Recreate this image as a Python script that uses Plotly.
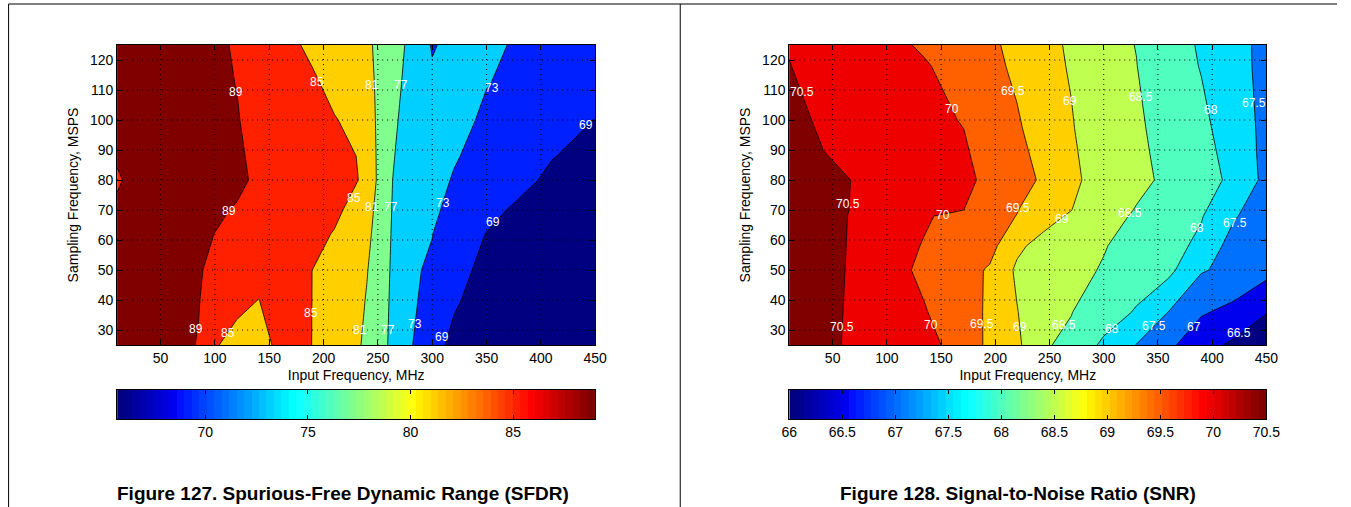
import numpy as np
import plotly.graph_objects as go

W, H = 1351, 507
FONT = "Liberation Sans, Arial, Helvetica, sans-serif"

# ---------------- data ----------------
X_TICKS = [50, 100, 150, 200, 250, 300, 350, 400, 450]
Y_TICKS = [30, 40, 50, 60, 70, 80, 90, 100, 110, 120]

# SFDR (dBFS) vs input frequency (MHz, columns) and sampling frequency (MSPS, rows)
SFDR_X = [10, 50, 85, 120, 140, 160, 190, 210, 240, 255, 270, 300, 320, 350, 380, 410, 450]
SFDR_Y = [25, 40, 50, 62, 70, 80, 88, 100, 112, 125]
SFDR_Z = [
    [89.8, 89.6, 88.94, 81.68, 82.5, 86.5, 84.95, 83.5, 80.43, 77.91, 74.5, 70.75, 67.78, 67.3, 66.8, 66.4, 65.9],
    [89.8, 89.6, 89.05, 87.6, 84.9, 87.0, 84.95, 83.5, 80.84, 77.6, 75.87, 70.75, 69.6, 66.91, 66.6, 66.3, 66.0],
    [89.8, 89.6, 89.1, 88.22, 87.5, 86.5, 84.97, 83.6, 81.1, 79.22, 73.67, 72.67, 70.5, 67.81, 67.3, 66.8, 66.3],
    [89.8, 89.7, 89.4, 88.4, 87.8, 87.2, 86.2, 84.75, 81.5, 79.63, 73.99, 73.05, 71.38, 68.88, 68.0, 67.4, 66.8],
    [89.3, 89.8, 89.6, 88.86, 88.3, 87.8, 86.9, 85.9, 82.44, 78.84, 75.25, 74.0, 71.37, 70.3, 68.16, 67.5, 67.0],
    [88.8, 90.4, 89.8, 89.4, 88.67, 88.0, 87.0, 86.3, 84.53, 78.3, 76.01, 74.6, 72.65, 71.6, 70.3, 68.06, 67.3],
    [89.2, 89.7, 89.6, 89.3, 88.53, 87.9, 87.0, 86.2, 84.4, 78.25, 76.46, 75.0, 73.4, 71.33, 70.4, 69.2, 67.46],
    [89.7, 89.7, 89.5, 89.1, 88.43, 87.6, 86.2, 85.2, 83.49, 78.64, 76.83, 75.4, 74.2, 72.38, 71.2, 70.2, 68.95],
    [89.7, 89.7, 89.4, 88.98, 88.2, 87.2, 85.6, 83.89, 81.8, 80.03, 77.2, 73.67, 73.4, 73.1, 72.31, 71.5, 70.3],
    [89.7, 89.7, 89.4, 88.9, 87.8, 86.5, 84.13, 83.0, 81.3, 80.4, 77.8, 72.7, 74.0, 73.6, 72.65, 71.8, 70.8],
]
SFDR_LEVEL_START, SFDR_LEVEL_END, SFDR_LEVEL_STEP = 69, 89, 4
SFDR_CLIM = (65.7, 89.0)
SFDR_CB_TICKS = [70, 75, 80, 85]
# inline contour labels (value text and where it sits)
SFDR_LABEL_X = [119.5, 113.2, 82.6, 194.0, 228.0, 188.0, 112.3, 244.5, 244.5, 233.8,
                271.4, 262.2, 259.2, 354.6, 310.2, 284.3, 441.7, 356.1, 309.3]
SFDR_LABEL_Y = [109.5, 69.7, 30.5, 112.6, 73.9, 35.6, 28.9, 111.7, 71.1, 30.0,
                111.7, 71.1, 30.0, 110.8, 72.2, 31.9, 98.3, 65.9, 27.8]
SFDR_LABEL_T = ["89", "89", "89", "85", "85", "85", "85", "81", "81", "81",
                "77", "77", "77", "73", "73", "73", "69", "69", "69"]

# SNR (dBFS)
SNR_X = [10, 40, 70, 100, 135, 165, 195, 220, 245, 270, 300, 330, 360, 390, 420, 450]
SNR_Y = [25, 36, 50, 58, 68, 70, 80, 90, 97, 118, 125]
SNR_Z = [
    [70.75, 70.65, 70.40, 70.3, 70.1, 69.9, 69.39, 69.1, 68.53, 68.43, 67.89, 67.49, 67.1, 66.68, 66.41, 66.2],
    [70.75, 70.65, 70.42, 70.25, 70.03, 69.71, 69.44, 69.02, 68.6, 68.51, 68.3, 67.95, 67.49, 67.05, 66.87, 66.52],
    [70.75, 70.65, 70.44, 70.2, 69.89, 69.7, 69.45, 68.92, 68.8, 68.65, 68.46, 68.3, 68.12, 67.54, 67.37, 67.15],
    [70.75, 70.65, 70.45, 70.2, 69.97, 69.8, 69.65, 69.10, 68.81, 68.65, 68.53, 68.29, 68.15, 67.9, 67.27, 67.2],
    [70.75, 70.65, 70.46, 70.25, 70.05, 69.87, 69.68, 69.49, 69.2, 68.93, 68.75, 68.42, 68.25, 68.03, 67.55, 67.19],
    [70.75, 70.65, 70.47, 70.3, 70.15, 70.04, 69.84, 69.52, 69.16, 69.01, 68.6, 68.49, 68.3, 68.08, 67.59, 67.22],
    [70.75, 70.65, 70.48, 70.35, 70.2, 70.1, 69.93, 69.7, 69.42, 69.2, 68.59, 68.55, 68.46, 68.2, 67.89, 67.37],
    [70.7, 70.51, 70.2, 70.15, 70.1, 70.05, 69.91, 69.6, 69.36, 69.1, 68.6, 68.54, 68.44, 68.15, 67.82, 67.36],
    [70.65, 70.46, 70.3, 70.2, 70.1, 70.02, 69.92, 69.55, 69.31, 69.05, 68.58, 68.53, 68.43, 68.1, 67.79, 67.36],
    [70.51, 70.36, 70.25, 70.15, 70.03, 69.88, 69.6, 69.43, 69.2, 68.95, 68.7, 68.51, 68.2, 67.98, 67.6, 67.42],
    [70.47, 70.3, 70.2, 70.1, 69.95, 69.75, 69.56, 69.41, 69.15, 68.93, 68.65, 68.49, 68.2, 67.95, 67.62, 67.4],
]
SNR_LEVEL_START, SNR_LEVEL_END, SNR_LEVEL_STEP = 66.5, 70.5, 0.5
SNR_CLIM = (66.0, 70.5)
SNR_CB_TICKS = [66, 66.5, 67, 67.5, 68, 68.5, 69, 69.5, 70, 70.5]
SNR_LABEL_X = [21.5, 64.4, 58.3, 160.1, 151.8, 140.5, 216.1, 221.3, 187.7,
               268.5, 261.4, 222.9, 334.4, 324.6, 262.9, 398.5, 385.6, 307.6,
               438.6, 420.7, 346.8, 383.1, 425.0]
SNR_LABEL_Y = [109.4, 72.0, 30.9, 103.7, 68.3, 31.7, 109.7, 70.8, 32.0,
               106.3, 67.0, 30.9, 107.6, 68.9, 31.7, 103.3, 64.1, 30.3,
               105.6, 65.8, 31.4, 30.9, 29.1]
SNR_LABEL_T = ["70.5", "70.5", "70.5", "70", "70", "70", "69.5", "69.5", "69.5",
               "69", "69", "69", "68.5", "68.5", "68.5", "68", "68", "68",
               "67.5", "67.5", "67.5", "67", "66.5"]

X_TITLE = "Input Frequency, MHz"
Y_TITLE = "Sampling Frequency, MSPS"
CAPTION_1 = "Figure 127. Spurious-Free Dynamic Range (SFDR)"
CAPTION_2 = "Figure 128. Signal-to-Noise Ratio (SNR)"


# ---------------- colour helpers (MATLAB jet(64)) ----------------
def jet64(i):
    """i in 1..64 -> rgb string"""
    if i <= 24:
        r = 0.0
    elif i <= 40:
        r = (i - 24) / 16
    elif i <= 56:
        r = 1.0
    else:
        r = (72 - i) / 16
    if i <= 8:
        g = 0.0
    elif i <= 24:
        g = (i - 8) / 16
    elif i <= 40:
        g = 1.0
    elif i <= 55:
        g = (56 - i) / 16
    else:
        g = 0.0
    if i <= 9:
        b = (i + 7) / 16
    elif i <= 25:
        b = 1.0
    elif i <= 40:
        b = (41 - i) / 16
    else:
        b = 0.0
    return "rgb(%d,%d,%d)" % (round(r * 255), round(g * 255), round(b * 255))


def cidx(v, clim):
    i = int(np.floor((v - clim[0]) / (clim[1] - clim[0]) * 64)) + 1
    return min(max(i, 1), 64)


def fill_scale(start, end, step, clim):
    levels = np.arange(start, end + step / 1000, step)
    nc = len(levels)
    scale = [[0.0, jet64(1)]]
    for k, lv in enumerate(levels):
        scale.append([(k + 1) / nc, jet64(cidx(lv, clim))])
    return scale


BAR_SCALE = [[i / 63, jet64(i + 1)] for i in range(64)]

# horizontal calibration of the photographed page (measured: shown_x = 7.9 + 0.9835 * x)
CAL_OFF, CAL_SCALE = 7.9, 0.9835


def sx(px):
    return (px - CAL_OFF) / CAL_SCALE


def px_x(a, b):
    return [max(sx(a), 0) / W, min(sx(b), W) / W]


def px_y(top, bottom):
    return [1 - bottom / H, 1 - top / H]


fig = go.Figure()


def add_panel(xs, ys, zs, lstart, lend, lstep, clim, xa, ya):
    fig.add_trace(go.Contour(
        x=xs, y=ys, z=zs, xaxis=xa, yaxis=ya,
        autocontour=False,
        contours=dict(start=lstart, end=lend, size=lstep, coloring="fill",
                      showlabels=False),
        line=dict(color="black", width=0.8, smoothing=0),
        colorscale=fill_scale(lstart, lend, lstep, clim),
        showscale=False, hoverinfo="skip",
    ))


def add_bar(clim, xa, ya):
    edges = np.linspace(clim[0], clim[1], 65)
    centers = (edges[:-1] + edges[1:]) / 2
    fig.add_trace(go.Heatmap(
        x=centers, y=[0], z=[list(range(64))], xaxis=xa, yaxis=ya,
        colorscale=BAR_SCALE, zmin=0, zmax=63, showscale=False,
        hoverinfo="skip",
    ))


add_panel(SFDR_X, SFDR_Y, SFDR_Z, SFDR_LEVEL_START, SFDR_LEVEL_END, SFDR_LEVEL_STEP, SFDR_CLIM, "x", "y")
add_bar(SFDR_CLIM, "x2", "y2")
add_panel(SNR_X, SNR_Y, SNR_Z, SNR_LEVEL_START, SNR_LEVEL_END, SNR_LEVEL_STEP, SNR_CLIM, "x3", "y3")
add_bar(SNR_CLIM, "x4", "y4")

tickfont = dict(family=FONT, size=14, color="black")
common = dict(ticks="inside", ticklen=5, tickcolor="black", tickwidth=1,
              showline=True, linecolor="black", linewidth=1, mirror="ticks",
              showgrid=False, zeroline=False, tickfont=tickfont,
              layer="above traces")


def xaxis(dom, anchor):
    return dict(domain=dom, anchor=anchor, range=[10, 450], tickvals=X_TICKS,
                title=dict(text=X_TITLE, font=tickfont, standoff=5), **common)


def yaxis(dom, anchor):
    return dict(domain=dom, anchor=anchor, range=[25, 125], tickvals=Y_TICKS,
                title=dict(text=Y_TITLE, font=tickfont, standoff=8), **common)


def cb_xaxis(dom, anchor, clim, ticks):
    return dict(domain=dom, anchor=anchor, range=list(clim), tickvals=ticks,
                ticktext=[("%g" % t) for t in ticks],
                ticks="inside", ticklen=4, tickcolor="black", showline=True,
                linecolor="black", linewidth=1, mirror="ticks", showgrid=False,
                zeroline=False, tickfont=tickfont, layer="above traces")


def cb_yaxis(dom, anchor):
    return dict(domain=dom, anchor=anchor, range=[-0.5, 0.5], showticklabels=False,
                ticks="", showline=True, linecolor="black", linewidth=1,
                mirror=True, showgrid=False, zeroline=False)


PLOT_TOP, PLOT_BOTTOM = 45, 345
CB_TOP, CB_BOTTOM = 390, 419
L1, R1 = 117, 595
L2, R2 = 789, 1266

fig.update_layout(
    width=W, height=H, autosize=False,
    margin=dict(l=0, r=0, t=0, b=0),
    paper_bgcolor="white", plot_bgcolor="white",
    showlegend=False,
    font=dict(family=FONT, color="black"),
    xaxis=xaxis(px_x(L1, R1), "y"),
    yaxis=yaxis(px_y(PLOT_TOP, PLOT_BOTTOM), "x"),
    xaxis2=cb_xaxis(px_x(L1, R1), "y2", SFDR_CLIM, SFDR_CB_TICKS),
    yaxis2=cb_yaxis(px_y(CB_TOP, CB_BOTTOM), "x2"),
    xaxis3=xaxis(px_x(L2, R2), "y3"),
    yaxis3=yaxis(px_y(PLOT_TOP, PLOT_BOTTOM), "x3"),
    xaxis4=cb_xaxis(px_x(L2, R2), "y4", SNR_CLIM, SNR_CB_TICKS),
    yaxis4=cb_yaxis(px_y(CB_TOP, CB_BOTTOM), "x4"),
)

shapes = []
# dotted grid drawn over the filled contours (as MATLAB does)
for xa, ya in (("x", "y"), ("x3", "y3")):
    for t in X_TICKS[:-1]:
        shapes.append(dict(type="line", xref=xa, yref=ya + " domain", x0=t, x1=t, y0=0, y1=1,
                           line=dict(color="black", width=1, dash="1px,4px"), layer="above"))
    for t in Y_TICKS:
        shapes.append(dict(type="line", xref=xa + " domain", yref=ya, x0=0, x1=1, y0=t, y1=t,
                           line=dict(color="black", width=1, dash="1px,4px"), layer="above"))
# page frame
frame = dict(color="black", width=1)
fx_left = max(sx(8), 0.6) / W
fx_mid = sx(680) / W
shapes.append(dict(type="line", xref="paper", yref="paper", x0=fx_left, x1=1, y0=1 - 4 / H, y1=1 - 4 / H, line=frame))
shapes.append(dict(type="line", xref="paper", yref="paper", x0=fx_left, x1=fx_left, y0=0, y1=1 - 4 / H, line=frame))
shapes.append(dict(type="line", xref="paper", yref="paper", x0=fx_mid, x1=fx_mid, y0=0, y1=1 - 4 / H, line=frame))
fig.update_layout(shapes=shapes)

# inline contour labels
label_font = dict(family=FONT, size=12, color="white")
for lx, ly, lt, xa, ya in ([(a, b, c, "x", "y") for a, b, c in zip(SFDR_LABEL_X, SFDR_LABEL_Y, SFDR_LABEL_T)] +
                           [(a, b, c, "x3", "y3") for a, b, c in zip(SNR_LABEL_X, SNR_LABEL_Y, SNR_LABEL_T)]):
    fig.add_annotation(text=lt, x=lx, y=ly, xref=xa, yref=ya, showarrow=False,
                       font=label_font, xanchor="center", yanchor="middle")

cap_font = dict(family=FONT, size=19, color="black")
fig.add_annotation(text="<b>%s</b>" % CAPTION_1, xref="paper", yref="paper",
                   x=sx(343) / W, y=1 - 493 / H, showarrow=False, font=cap_font,
                   xanchor="center", yanchor="middle")
fig.add_annotation(text="<b>%s</b>" % CAPTION_2, xref="paper", yref="paper",
                   x=sx(1018) / W, y=1 - 493 / H, showarrow=False, font=cap_font,
                   xanchor="center", yanchor="middle")

POST = ("var gd=document.getElementById('{plot_id}');"
        "document.documentElement.style.margin='0';document.documentElement.style.overflow='hidden';"
        "document.body.style.margin='0';document.body.style.padding='0';document.body.style.overflow='hidden';"
        "gd.style.position='absolute';gd.style.left='0px';gd.style.top='0px';")

fig.write_html("out.html", config={"displayModeBar": False, "responsive": False},
               post_script=POST)
